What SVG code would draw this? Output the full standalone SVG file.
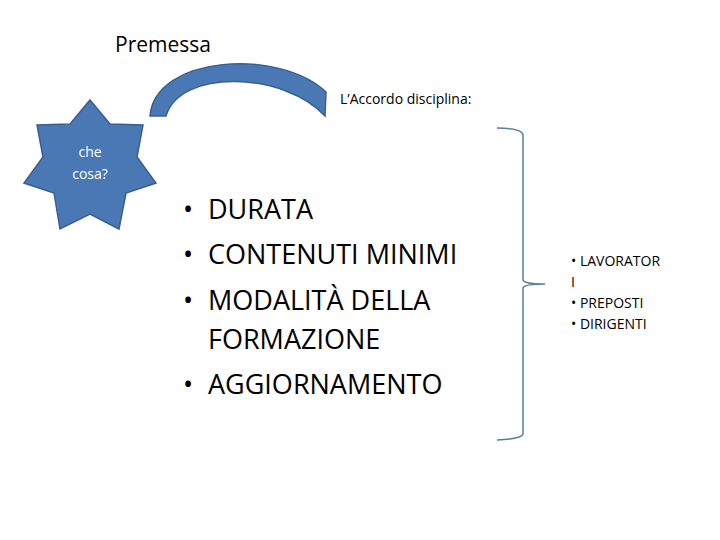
<svg xmlns="http://www.w3.org/2000/svg" width="720" height="540" viewBox="0 0 720 540">
<style>
text{font-family:"Open Sans","Liberation Sans",sans-serif;fill:#000}
.shape{fill:#4a78b5;stroke:#3a5f8f;stroke-width:1.5}
.b{font-size:27px}
.s{font-size:14px}
</style>
<rect width="720" height="540" fill="#fff"/>
<text x="115" y="52" font-size="21">Premessa</text>
<g id="arc"><path class="shape" d="M150,116 C155,55 280,48 326,92 L325,116 C285,72 180,68 166,116 Z"/></g>
<text x="340" y="104" font-size="14">L’Accordo disciplina:</text>
<g id="star">
<polygon class="shape" points="90,100 110,124 143,125 137,157 156,183 126,193 119,229 90,214 60,229 54,193 24,183 43,157 37,125 70,124"/>
<text x="90" y="157" font-size="14" text-anchor="middle" style="fill:#fff">che</text>
<text x="90" y="179" font-size="14" text-anchor="middle" style="fill:#fff">cosa?</text>
</g>
<g id="list">
<text class="b" x="183" y="219">•</text><text class="b" x="208" y="219">DURATA</text>
<text class="b" x="183" y="264">•</text><text class="b" x="208" y="264">CONTENUTI MINIMI</text>
<text class="b" x="183" y="310">•</text><text class="b" x="208" y="310">MODALITÀ DELLA</text>
<text class="b" x="208" y="349">FORMAZIONE</text>
<text class="b" x="183" y="394">•</text><text class="b" x="208" y="394">AGGIORNAMENTO</text>
</g>
<g id="connectors"><path d="M497,128 Q522,128 523,135 L523,280 Q524,284 545,284 Q524,284 523,288 L523,434 Q522,439 497,440" fill="none" stroke="#5a7f9a" stroke-width="1.5"/></g>
<g id="roles">
<text class="s" x="571" y="266">• LAVORATOR</text>
<text class="s" x="571" y="287">I</text>
<text class="s" x="571" y="308">• PREPOSTI</text>
<text class="s" x="571" y="329">• DIRIGENTI</text>
</g>
</svg>
